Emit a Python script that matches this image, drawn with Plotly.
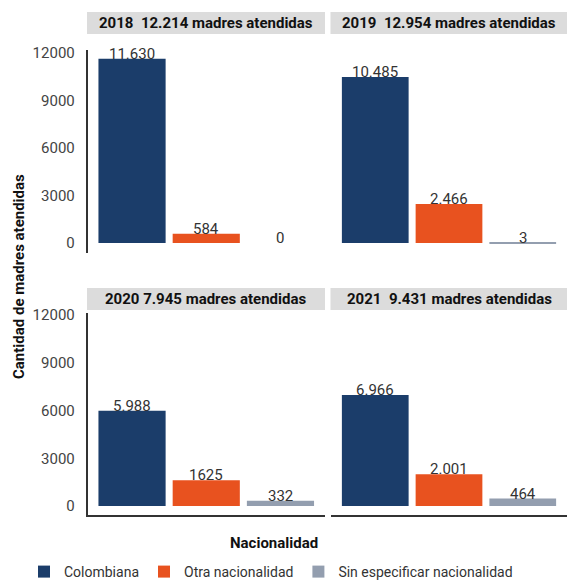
import plotly.graph_objects as go

# Madres atendidas por nacionalidad, 2018-2021
years = ["2018", "2019", "2020", "2021"]
totals = ["2018\u00a0 12.214 madres atendidas",
          "2019\u00a0 12.954 madres atendidas",
          "2020 7.945 madres atendidas",
          "2021\u00a0 9.431 madres atendidas"]
categories = ["Colombiana", "Otra nacionalidad", "Sin especificar nacionalidad"]
colombiana = [11630, 10485, 5988, 6966]
otra = [584, 2466, 1625, 2001]
sin_especificar = [0, 3, 332, 464]
labels_colombiana = ["11.630", "10.485", "5.988", "6.966"]
labels_otra = ["584", "2.466", "1625", "2.001"]
labels_sin = ["0", "3", "332", "464"]
y_ticks = [0, 3000, 6000, 9000, 12000]

colors = ["#1B3D6A", "#E8521F", "#939EAF"]
FONT = "Roboto"
W, H = 567, 581

series = [colombiana, otra, sin_especificar]
series_labels = [labels_colombiana, labels_otra, labels_sin]


def px_x(v):
    return v / W


def px_y(v):
    return 1 - v / H


# panel geometry in pixels: (x0, x1, y_top, y_bottom)
panels = [
    (87.5, 325, 50, 253),
    (331, 567, 50, 253),
    (87.5, 325, 313, 515),
    (331, 567, 313, 515),
]
y_ranges = [[-630, 12190], [-630, 12190], [-565, 12125], [-565, 12125]]
strip_rows = [(12, 34), (12, 34), (288, 310), (288, 310)]

fig = go.Figure()
annotations = []
shapes = []

for p, (x0, x1, yt, yb) in enumerate(panels):
    sfx = "" if p == 0 else str(p + 1)
    for s, name in enumerate(categories):
        fig.add_trace(go.Bar(
            x=[name], y=[series[s][p]],
            marker=dict(color=colors[s], line=dict(width=0)),
            name=name, legendgroup=name, showlegend=(p == 0),
            xaxis="x" + sfx, yaxis="y" + sfx,
            hoverinfo="skip",
        ))
        annotations.append(dict(
            x=name, y=series[s][p], xref="x" + sfx, yref="y" + sfx,
            text=series_labels[s][p], showarrow=False,
            yanchor="bottom", yshift=-6,
            font=dict(family=FONT, size=15, color="#333333"),
        ))
    left_col = p in (0, 2)
    bottom_row = p in (2, 3)
    fig.layout["xaxis" + sfx] = dict(
        domain=[px_x(x0), min(px_x(x1), 1.0)],
        range=[-0.6, 2.6], type="category",
        showticklabels=False, ticks="", showgrid=False, zeroline=False,
        showline=bottom_row, linecolor="#333333", linewidth=2,
        anchor="y" + sfx, fixedrange=True, automargin=False,
    )
    fig.layout["yaxis" + sfx] = dict(
        domain=[px_y(yb), px_y(yt)],
        range=y_ranges[p], tickvals=y_ticks, tickformat="d",
        showticklabels=left_col, ticks="", showgrid=False, zeroline=False,
        showline=left_col, linecolor="#333333", linewidth=1.5,
        ticklabelstandoff=8,
        tickfont=dict(family=FONT, size=15, color="#444444"),
        anchor="x" + sfx, fixedrange=True, automargin=False,
    )
    # grey strip carrying the panel title
    st, sb = strip_rows[p]
    shapes.append(dict(
        type="rect", xref="paper", yref="paper",
        x0=px_x(x0 - 0.5), x1=min(px_x(x1), 1.0), y0=px_y(sb), y1=px_y(st),
        fillcolor="#DCDCDC", line=dict(width=0), layer="below",
    ))
    annotations.append(dict(
        x=(px_x(x0) + min(px_x(x1), 1.0)) / 2, y=px_y((st + sb) / 2),
        xref="paper", yref="paper", text="<b>" + totals[p] + "</b>",
        showarrow=False, xanchor="center", yanchor="middle",
        font=dict(family=FONT, size=15, color="#111111"),
    ))

# axis titles
annotations.append(dict(
    x=px_x(19), y=px_y(277), xref="paper", yref="paper",
    text="<b>Cantidad de madres atendidas</b>", textangle=-90,
    showarrow=False, xanchor="center", yanchor="middle",
    font=dict(family=FONT, size=15, color="#111111"),
))
annotations.append(dict(
    x=px_x(274), y=px_y(543), xref="paper", yref="paper",
    text="<b>Nacionalidad</b>", showarrow=False,
    xanchor="center", yanchor="middle",
    font=dict(family=FONT, size=15, color="#111111"),
))

fig.update_layout(
    width=W, height=H,
    margin=dict(l=0, r=0, t=0, b=0, pad=0, autoexpand=False),
    paper_bgcolor="white", plot_bgcolor="white",
    barmode="group", bargap=0.095,
    showlegend=True,
    legend=dict(
        orientation="h", x=px_x(24), y=px_y(572),
        xanchor="left", yanchor="middle",
        font=dict(family=FONT, size=14, color="#333333"),
        itemclick=False, itemdoubleclick=False,
        tracegroupgap=0,
    ),
    annotations=annotations, shapes=shapes,
)

fig.write_html("out.html")
